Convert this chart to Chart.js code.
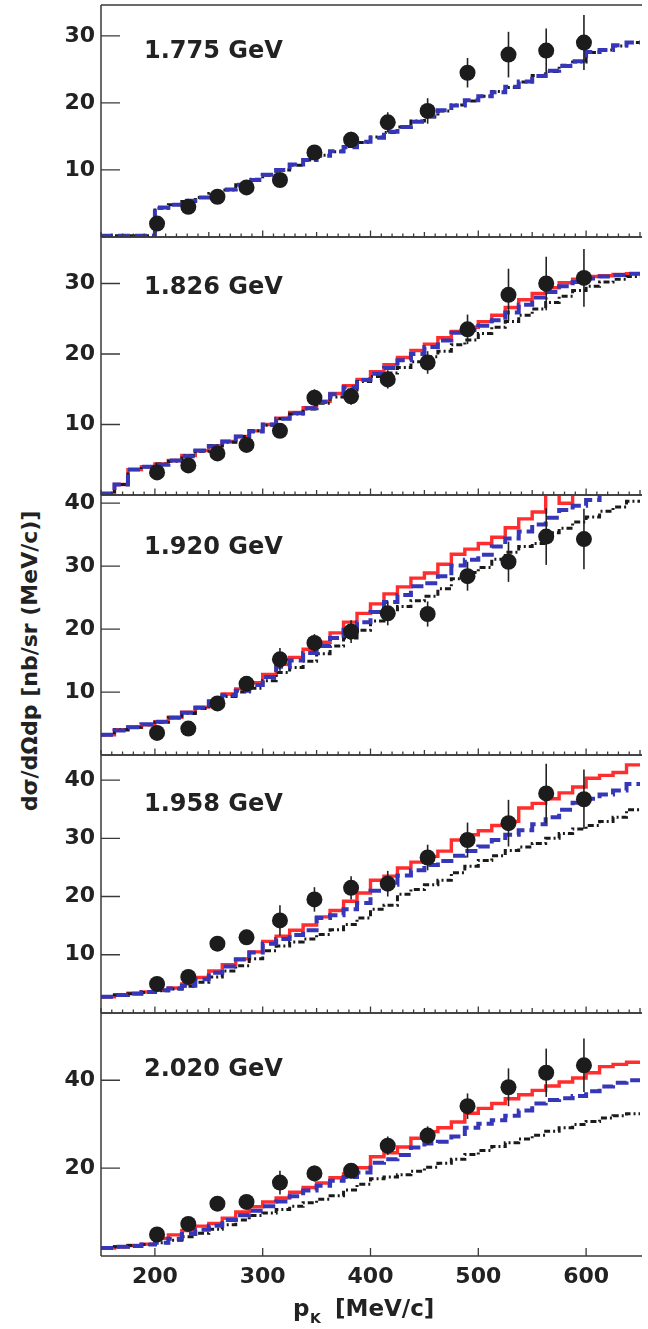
<!DOCTYPE html>
<html>
<head>
<meta charset="utf-8">
<script src="https://cdn.jsdelivr.net/npm/chart.js@4.4.1/dist/chart.umd.min.js"></script>
<style>
  html, body { margin: 0; padding: 0; background: #fff; width: 648px; height: 1329px; overflow: hidden; }
  #wrap { position: relative; width: 648px; height: 1329px; }
  #wrap canvas { position: absolute; left: 0; }
  .ytitle {
    position: absolute; left: 29px; top: 661px;
    font: bold 22px "DejaVu Sans", sans-serif; color: #222; white-space: nowrap;
    transform: translate(-50%, -50%) rotate(-90deg);
  }
</style>
</head>
<body>
<div id="wrap">
  <div class="ytitle">dσ/dΩdp [nb/sr (MeV/c)]</div>
</div>
<script>
// ---- kaon momentum bins of the simulated spectra (MeV/c) ----
const binEdges = [150, 162.5, 175, 187.5, 200, 212.5, 225, 237.5, 250, 262.5, 275, 287.5,
  300, 312.5, 325, 337.5, 350, 362.5, 375, 387.5, 400, 412.5, 425, 437.5, 450, 462.5,
  475, 487.5, 500, 512.5, 525, 537.5, 550, 562.5, 575, 587.5, 600, 612.5, 625, 637.5, 650];

// ---- measured points: kaon momentum (MeV/c) ----
const pK = [202, 231, 258, 285, 316, 348, 382, 416, 453, 490, 528, 563, 598];

// ---- tick labels ----
const xTickLabels = [200, 300, 400, 500, 600];
const yTicks1775 = [10, 20, 30];
const yTicks1826 = [10, 20, 30];
const yTicks1920 = [10, 20, 30, 40];
const yTicks1958 = [10, 20, 30, 40];
const yTicks2020 = [20, 40];

// ---- 1.775 GeV ----
const data1775 = [2.0, 4.5, 6.0, 7.4, 8.5, 12.6, 14.5, 17.1, 18.8, 24.5, 27.2, 27.8, 29.0];
const err1775  = [0.8, 0.7, 0.7, 0.8, 0.9, 1.0, 1.2, 1.5, 1.9, 2.2, 3.4, 3.3, 4.1];
const black1775 = [0.2,0.2,0.2,0.2,4.3,4.8,5.3,5.9,6.5,7.0,7.8,8.6,9.2,10.0,10.7,11.5,12.2,12.7,13.5,14.1,
  14.9,15.6,16.4,17.3,17.9,18.8,19.7,20.3,21.0,21.7,22.3,23.1,24.1,24.7,25.6,26.1,27.5,27.9,28.5,29.0];
const blue1775 = [0.2,0.2,0.2,0.2,4.4,4.8,5.4,5.9,6.4,7.1,7.8,8.5,9.3,10.0,10.8,11.5,12.1,12.8,13.4,14.2,
  14.8,15.7,16.4,17.2,18.0,18.9,19.6,20.4,21.0,21.6,22.4,23.2,24.0,24.8,25.5,26.2,27.6,27.9,28.6,29.0];

// ---- 1.826 GeV ----
const data1826 = [3.2, 4.2, 5.9, 7.1, 9.1, 13.8, 14.0, 16.4, 18.8, 23.5, 28.4, 30.0, 30.8];
const err1826  = [0.7, 0.8, 0.8, 0.9, 1.0, 1.2, 1.2, 1.3, 1.6, 2.1, 3.7, 3.8, 4.1];
const red1826 = [0.2,1.5,3.6,4.0,4.4,4.9,5.6,6.3,7.0,7.6,8.3,9.1,10.0,10.9,11.7,12.4,13.3,14.4,15.5,16.4,
  17.5,18.5,19.5,20.5,21.4,22.3,23.2,23.8,24.6,25.5,26.6,27.7,28.6,29.4,30.1,30.6,31.0,31.1,31.3,31.4];
const blue1826 = [0.2,1.5,3.6,4.0,4.3,4.9,5.5,6.3,6.9,7.6,8.3,9.0,10.0,10.8,11.6,12.3,13.2,14.3,15.3,16.3,
  17.2,18.0,19.1,20.0,21.0,21.9,23.0,23.4,24.0,24.8,25.9,27.0,28.0,28.8,29.6,30.2,30.7,31.0,31.2,31.4];
const black1826 = [0.2,1.5,3.6,4.0,4.4,4.8,5.6,6.2,7.0,7.5,8.3,9.1,9.9,10.8,11.5,12.2,13.0,13.9,14.9,16.1,
  16.8,17.3,18.1,18.9,19.6,20.4,21.3,22.0,22.9,23.8,24.6,25.5,26.4,27.3,28.2,29.0,29.6,30.2,30.6,31.0];

// ---- 1.920 GeV ----
const data1920 = [3.5, 4.2, 8.2, 11.3, 15.2, 17.8, 19.6, 22.5, 22.4, 28.4, 30.7, 34.7, 34.3];
const err1920  = [0.8, 0.8, 1.0, 1.2, 1.8, 1.4, 1.8, 1.9, 2.0, 2.3, 3.2, 4.5, 4.8];
const red1920 = [3.2,4.0,4.4,4.8,5.3,6.0,6.8,7.6,8.6,9.7,10.5,11.5,12.8,14.4,15.5,16.8,17.9,19.4,21.1,22.5,
  24.0,25.6,26.7,28.1,28.9,30.3,31.9,32.7,33.6,34.6,36.1,37.5,38.6,41.6,40.0,41.8,42.6,43.3,44.0,44.8];
const blue1920 = [3.2,3.9,4.4,4.9,5.3,5.9,6.7,7.5,8.5,9.5,10.2,11.1,12.4,14.0,15.0,16.2,17.3,18.6,19.9,21.1,
  22.7,24.3,25.4,26.8,27.3,28.4,30.1,31.0,31.8,33.1,34.4,35.5,36.6,37.7,38.9,39.6,40.5,41.6,42.3,43.0];
const black1920 = [3.2,4.0,4.4,4.8,5.2,5.9,6.6,7.4,8.4,9.3,10.0,10.6,11.8,13.1,13.9,14.9,16.1,17.3,18.6,19.8,
  21.3,22.8,23.6,24.5,25.2,26.4,28.0,29.0,29.8,31.1,32.2,33.1,33.6,35.3,36.0,37.0,37.8,38.7,39.4,40.3];

// ---- 1.958 GeV ----
const data1958 = [5.0, 6.2, 11.9, 13.0, 15.9, 19.5, 21.5, 22.2, 26.7, 29.7, 32.6, 37.7, 36.7];
const err1958  = [0.6, 0.8, 1.2, 1.3, 2.6, 2.1, 2.0, 2.2, 2.2, 3.0, 4.0, 5.1, 5.1];
const red1958 = [2.8,3.1,3.4,3.6,3.9,4.3,5.0,6.1,7.2,8.3,9.3,10.5,12.3,13.2,14.2,15.1,16.5,17.6,19.2,20.6,
  22.8,23.5,24.9,25.9,26.9,27.8,29.7,30.6,31.3,32.2,32.9,35.2,36.0,36.8,37.8,38.8,40.3,40.8,41.3,42.6];
const blue1958 = [2.8,3.1,3.3,3.6,3.9,4.2,4.7,5.8,6.9,8.0,9.2,10.4,11.9,12.7,13.4,14.2,16.3,16.8,17.8,18.9,
  21.0,22.0,23.6,24.5,25.4,26.1,27.0,27.8,28.6,29.7,30.6,31.4,32.4,33.6,34.9,36.1,36.8,37.5,38.2,39.3];
const black1958 = [2.8,3.1,3.3,3.5,3.8,4.1,4.6,5.3,6.2,7.2,8.1,9.3,10.7,11.5,12.2,12.7,13.5,14.3,15.2,16.3,
  17.8,18.5,20.4,21.2,22.0,22.8,24.1,25.2,26.2,27.0,27.9,28.5,29.1,30.0,30.8,31.6,32.2,32.9,33.6,34.9];

// ---- 2.020 GeV ----
const data2020 = [4.9, 7.3, 11.9, 12.3, 16.7, 18.8, 19.4, 25.1, 27.4, 34.1, 38.4, 41.7, 43.4];
const err2020  = [1.0, 1.2, 1.3, 1.4, 2.7, 1.8, 1.7, 2.1, 2.1, 2.9, 4.3, 5.5, 6.1];
const red2020 = [1.8,2.1,2.4,2.7,4.0,4.8,5.8,6.8,7.4,8.6,10.0,11.2,12.3,13.2,14.5,15.6,16.6,17.8,18.7,20.1,
  22.6,23.5,24.8,26.8,28.3,29.2,30.5,32.5,33.6,34.7,35.8,36.7,37.7,38.7,39.6,40.5,41.7,43.1,43.6,44.1];
const blue2020 = [1.8,2.1,2.3,2.6,3.0,3.9,5.0,6.0,6.9,8.2,9.3,10.3,11.3,12.4,13.6,14.9,16.0,17.1,18.0,19.0,
  21.2,22.0,23.0,24.7,25.6,26.0,27.2,29.2,30.1,30.9,31.9,33.1,34.7,35.5,35.9,36.4,37.5,38.6,39.4,40.0];
const black2020 = [1.8,2.1,2.4,2.6,3.0,3.6,4.4,5.2,6.1,7.1,8.2,9.2,9.8,10.6,11.3,12.1,12.9,13.7,15.0,16.3,
  17.6,18.0,18.5,19.3,20.2,21.1,22.0,23.1,24.0,24.9,25.8,26.6,27.5,28.4,29.2,29.9,30.6,31.4,31.9,32.4];

// ---- panel layout ----
const panels = [
  { label: '1.775 GeV', top: 5,    bottom: 237,  ymax: 34.6, labelDy: 47, yTicks: yTicks1775,
    data: data1775, err: err1775, red: null,    blue: blue1775, black: black1775 },
  { label: '1.826 GeV', top: 237,  bottom: 495,  ymax: 36.6, labelDy: 51, yTicks: yTicks1826,
    data: data1826, err: err1826, red: red1826, blue: blue1826, black: black1826 },
  { label: '1.920 GeV', top: 495,  bottom: 755,  ymax: 41.3, labelDy: 53, yTicks: yTicks1920,
    data: data1920, err: err1920, red: red1920, blue: blue1920, black: black1920 },
  { label: '1.958 GeV', top: 755,  bottom: 1013, ymax: 44.3, labelDy: 50, yTicks: yTicks1958,
    data: data1958, err: err1958, red: red1958, blue: blue1958, black: black1958 },
  { label: '2.020 GeV', top: 1013, bottom: 1256, ymax: 55.3, labelDy: 57, yTicks: yTicks2020,
    data: data2020, err: err2020, red: red2020, blue: blue2020, black: black2020 }
];

const PAGE_H = 1329;
const FRAME_LEFT = 101;
const TEXT = '#222';
const FRAME = '#3a3a3a';
const FONT = '"DejaVu Sans", sans-serif';

Chart.defaults.font.family = FONT;
Chart.defaults.color = TEXT;

function histPoints(vals) {
  const pts = vals.map((v, i) => ({ x: binEdges[i], y: v }));
  pts.push({ x: binEdges[vals.length], y: vals[vals.length - 1] });
  return pts;
}

// error bars are drawn just before the marker dataset, so they sit over the curves
const errorBarPlugin = {
  id: 'errorBars',
  beforeDatasetDraw(chart, args) {
    const ds = chart.data.datasets[args.index];
    if (!ds.errorBars) return;
    const { ctx, scales: { x, y }, chartArea } = chart;
    ctx.save();
    ctx.beginPath();
    ctx.rect(chartArea.left, chartArea.top, chartArea.right - chartArea.left, chartArea.bottom - chartArea.top);
    ctx.clip();
    ctx.strokeStyle = TEXT;
    ctx.lineWidth = 1.6;
    ds.data.forEach((pt, i) => {
      const e = ds.errorBars[i];
      const px = x.getPixelForValue(pt.x);
      ctx.beginPath();
      ctx.moveTo(px, y.getPixelForValue(pt.y - e));
      ctx.lineTo(px, y.getPixelForValue(pt.y + e));
      ctx.stroke();
    });
    ctx.restore();
  }
};

// frame with inward ticks, panel energy label, x-axis title on the last panel
const framePlugin = {
  id: 'frame',
  afterDraw(chart, args, opts) {
    const { ctx, chartArea: a, scales: { x, y } } = chart;
    ctx.save();
    ctx.strokeStyle = FRAME;
    ctx.lineWidth = 1.5;
    ctx.beginPath();
    ctx.moveTo(a.left, a.top); ctx.lineTo(a.right + 2, a.top);
    ctx.moveTo(a.left, a.top); ctx.lineTo(a.left, a.bottom);
    ctx.moveTo(a.left, a.bottom); ctx.lineTo(a.right + 2, a.bottom);
    ctx.stroke();

    ctx.lineWidth = 1.3;
    ctx.beginPath();
    for (const t of y.ticks) {
      const py = y.getPixelForValue(t.value);
      ctx.moveTo(a.left, py); ctx.lineTo(a.left + 19, py);
    }
    for (let v = x.min; v <= x.max; v += 10) {
      let len;
      if (opts.last) {
        if (v % 100 !== 0) continue;
        len = 8;
      } else {
        len = v % 100 === 0 ? 6.5 : (v % 50 === 0 ? 5 : 3.5);
      }
      const px = x.getPixelForValue(v);
      ctx.moveTo(px, a.bottom); ctx.lineTo(px, a.bottom - len);
    }
    ctx.stroke();

    ctx.fillStyle = TEXT;
    ctx.font = 'bold 24px ' + FONT;
    ctx.textBaseline = 'middle';
    ctx.textAlign = 'left';
    ctx.fillText(opts.label, 144, a.top + opts.labelDy);

    if (opts.last) {
      const base = a.bottom + 60;
      ctx.textBaseline = 'alphabetic';
      ctx.font = 'bold 23px ' + FONT;
      ctx.fillText('p', 293, base);
      ctx.font = 'bold 14px ' + FONT;
      ctx.fillText('K', 310, base + 7);
      ctx.font = 'bold 23px ' + FONT;
      ctx.fillText('[MeV/c]', 335, base);
    }
    ctx.restore();
  }
};

const wrap = document.getElementById('wrap');

panels.forEach((p, idx) => {
  const last = idx === panels.length - 1;
  const padTop = 14;
  const padBottom = last ? 0 : 14;
  const cTop = p.top - padTop;
  const cBottom = last ? PAGE_H : p.bottom + padBottom;
  const canvas = document.createElement('canvas');
  canvas.width = 648;
  canvas.height = cBottom - cTop;
  canvas.style.top = cTop + 'px';
  canvas.style.width = '648px';
  canvas.style.height = canvas.height + 'px';
  wrap.appendChild(canvas);

  const datasets = [
    {
      label: 'data',
      data: pK.map((v, i) => ({ x: v, y: p.data[i] })),
      errorBars: p.err,
      pointRadius: 8,
      pointBackgroundColor: '#1c1c1c',
      pointBorderWidth: 0,
      showLine: false,
      order: 0
    },
    {
      label: 'blue',
      data: histPoints(p.blue),
      showLine: true, stepped: 'before', pointRadius: 0,
      borderColor: '#3636b8', borderWidth: 4, borderDash: [12, 5],
      order: 1
    },
    {
      label: 'black',
      data: histPoints(p.black),
      showLine: true, stepped: 'before', pointRadius: 0,
      borderColor: '#1a1a1a', borderWidth: 3, borderDash: [6, 3, 2, 3],
      order: 2
    }
  ];
  if (p.red) {
    datasets.push({
      label: 'red',
      data: histPoints(p.red),
      showLine: true, stepped: 'before', pointRadius: 0,
      borderColor: '#ff2d2d', borderWidth: 3.4,
      order: 3
    });
  }

  new Chart(canvas, {
    type: 'scatter',
    data: { datasets },
    options: {
      responsive: false,
      animation: false,
      devicePixelRatio: 1,
      events: [],
      layout: { padding: { top: padTop, bottom: padBottom, left: 0, right: 1 } },
      plugins: {
        legend: { display: false },
        tooltip: { enabled: false },
        frame: { label: p.label, labelDy: p.labelDy, last }
      },
      scales: {
        x: {
          type: 'linear', min: 150, max: 650,
          grid: { display: false, drawTicks: false },
          border: { display: false },
          ticks: {
            display: last, padding: 8, autoSkip: false, maxRotation: 0,
            color: TEXT, font: { size: 22, weight: 'bold' },
            callback: v => String(v)
          },
          afterBuildTicks: s => { s.ticks = xTickLabels.map(v => ({ value: v })); },
          afterFit: s => {
            s.height = last ? PAGE_H - p.bottom : 0;
            s.paddingLeft = 0; s.paddingRight = 0; s.paddingTop = 0; s.paddingBottom = 0;
          }
        },
        y: {
          type: 'linear', min: 0, max: p.ymax,
          grid: { display: false, drawTicks: false },
          border: { display: false },
          ticks: {
            padding: 6, color: TEXT, font: { size: 22, weight: 'bold' },
            callback: v => String(v)
          },
          afterBuildTicks: s => { s.ticks = p.yTicks.map(v => ({ value: v })); },
          afterFit: s => {
            s.width = FRAME_LEFT;
            s.paddingLeft = 0; s.paddingRight = 0; s.paddingTop = 0; s.paddingBottom = 0;
          }
        }
      }
    },
    plugins: [errorBarPlugin, framePlugin]
  });
});
</script>
</body>
</html>
